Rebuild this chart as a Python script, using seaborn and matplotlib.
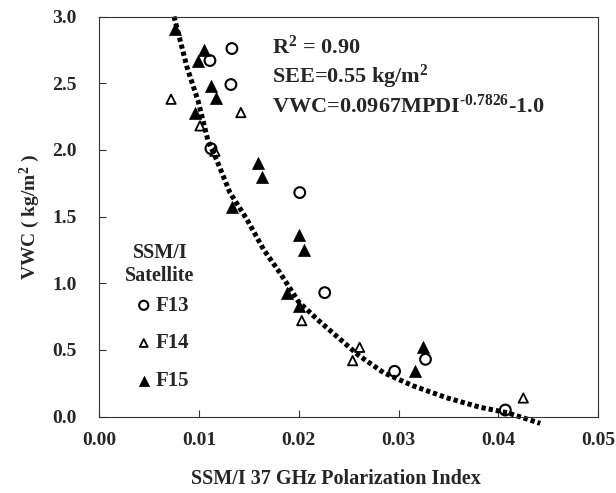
import numpy as np
import pandas as pd
import matplotlib
matplotlib.use("Agg")
import matplotlib.pyplot as plt
import seaborn as sns
from matplotlib.ticker import FormatStrFormatter

# Du lieu doc tu hinh (MPDI 37 GHz, VWC kg/m2)
f13_x = [0.0133, 0.0111, 0.0132, 0.0112, 0.0201, 0.0226, 0.0296, 0.0327, 0.0407]
f13_y = [2.76, 2.67, 2.49, 2.01, 1.68, 0.93, 0.34, 0.43, 0.05]

f14_x = [0.0072, 0.0142, 0.0101, 0.0116, 0.0203, 0.0261, 0.0254, 0.0425]
f14_y = [2.38, 2.28, 2.18, 1.99, 0.72, 0.52, 0.42, 0.14]

f15_x = [0.0076, 0.0105, 0.0099, 0.0112, 0.0117, 0.0096, 0.0159, 0.0163, 0.0133,
         0.0200, 0.0205, 0.0188, 0.0200, 0.0316, 0.0324]
f15_y = [2.91, 2.75, 2.67, 2.48, 2.39, 2.28, 1.90, 1.80, 1.57,
         1.36, 1.25, 0.93, 0.83, 0.34, 0.52]

# Duong hoi quy (doc tu hinh)
fit_x = [0.0075, 0.0088, 0.0099, 0.0109, 0.0118, 0.0131, 0.0148, 0.0165, 0.0181,
         0.0200, 0.0220, 0.0240, 0.0260, 0.0285, 0.0315, 0.0349, 0.0382, 0.0409, 0.0442]
fit_y = [3.00, 2.62, 2.37, 2.07, 1.92, 1.68, 1.48, 1.25, 1.08,
         0.86, 0.72, 0.59, 0.46, 0.33, 0.23, 0.14, 0.07, 0.03, -0.05]

sns.set_style("white")
plt.rcParams['font.family'] = ['Liberation Serif', 'DejaVu Serif']
plt.rcParams['font.weight'] = 'bold'
plt.rcParams['mathtext.fontset'] = 'custom'
plt.rcParams['mathtext.rm'] = 'Liberation Serif:bold'
plt.rcParams['mathtext.bf'] = 'Liberation Serif:bold'
plt.rcParams['mathtext.it'] = 'Liberation Serif:bold'

fig = plt.figure(figsize=(6.16, 4.93), dpi=100)
ax = fig.add_axes([0.161, 0.1548, 0.81, 0.8117])

df13 = pd.DataFrame({'x': f13_x, 'y': f13_y})
df14 = pd.DataFrame({'x': f14_x, 'y': f14_y})
df15 = pd.DataFrame({'x': f15_x, 'y': f15_y})

# Duong cham
ax.plot(fit_x, fit_y, color='black', linewidth=3.6, linestyle=(0, (0.85, 0.6)),
        dash_capstyle='butt', clip_on=False, zorder=2)

sns.scatterplot(data=df13, x='x', y='y', ax=ax, marker='o', s=60,
                facecolor='none', edgecolor='black', linewidth=1.5, label='F13', zorder=3)
sns.scatterplot(data=df14, x='x', y='y', ax=ax, marker='^', s=45,
                facecolor='none', edgecolor='black', linewidth=1.3, label='F14', zorder=3)
sns.scatterplot(data=df15, x='x', y='y', ax=ax, marker='^', s=75,
                color='black', edgecolor='black', linewidth=0.5, label='F15', zorder=3)

ax.set_xlim(0, 0.05)
ax.set_ylim(0, 3.0)
ax.set_xticks([0.00, 0.01, 0.02, 0.03, 0.04, 0.05])
ax.set_yticks([0.0, 0.5, 1.0, 1.5, 2.0, 2.5, 3.0])
ax.xaxis.set_major_formatter(FormatStrFormatter('%.2f'))
ax.yaxis.set_major_formatter(FormatStrFormatter('%.1f'))
ax.tick_params(axis='both', direction='in', length=5, width=0.8, color='#333333',
               labelsize=14, bottom=True, left=True, top=False, right=False)
ax.tick_params(axis='x', pad=11)
ax.tick_params(axis='y', pad=16)
for lab in ax.get_xticklabels() + ax.get_yticklabels():
    lab.set_fontweight('bold')

for sp in ax.spines.values():
    sp.set_color('#333333')
    sp.set_linewidth(0.8)

ax.set_xlabel('SSM/I 37 GHz Polarization Index', fontsize=14.5, fontweight='bold')
ax.set_ylabel('VWC ( kg/m$^{2}$ )', fontsize=14, fontweight='bold')
ax.xaxis.set_label_coords(0.475, -0.13)
ax.yaxis.set_label_coords(-0.115, 0.5)

# Chu thich thong ke
ax.text(0.0173, 2.77, 'R$^{2}$ = 0.90', fontsize=16, fontweight='bold', va='center')
ax.text(0.0173, 2.55, 'SEE=0.55 kg/m$^{2}$', fontsize=16, fontweight='bold', va='center')
ax.text(0.0173, 2.33, 'VWC=0.0967MPDI$^{\\text{-}0.7826}$-1.0', fontsize=16,
        fontweight='bold', va='center')

# Tieu de chu giai
ax.text(0.122, 0.38, 'SSM/I\nSatellite', transform=ax.transAxes, ha='center', va='center',
        fontsize=14.5, fontweight='bold', linespacing=1.15)

leg = ax.legend(frameon=False, loc='center left',
                bbox_to_anchor=(0.035, 0.183), fontsize=15,
                labelspacing=0.85, handletextpad=0.15, handlelength=0.8,
                markerscale=0.85)
for t in leg.get_texts():
    t.set_fontweight('bold')

fig.savefig('out.png', dpi=100)
